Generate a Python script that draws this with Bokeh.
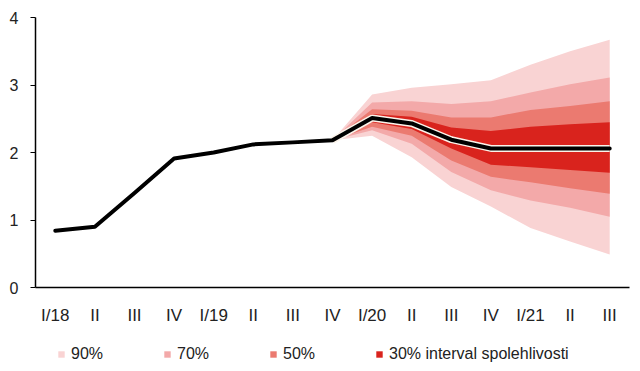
from bokeh.plotting import figure
from bokeh.layouts import column
from bokeh.models import Legend, LegendItem, FixedTicker, Range1d
from bokeh.embed import file_html
from bokeh.resources import INLINE

quarters = ["I/18", "II", "III", "IV", "I/19", "II", "III", "IV",
            "I/20", "II", "III", "IV", "I/21", "II", "III"]
actual = [0.84, 0.90, 1.40, 1.91, 2.00, 2.12, 2.15, 2.18,
          2.51, 2.43, 2.19, 2.06, 2.06, 2.06, 2.06]

fan_start = 7  # IV/19
lo90 = [2.18, 2.25, 1.93, 1.49, 1.20, 0.88, 0.68, 0.49]
hi90 = [2.18, 2.86, 2.96, 3.01, 3.07, 3.30, 3.50, 3.67]
lo70 = [2.18, 2.33, 2.13, 1.71, 1.44, 1.29, 1.18, 1.05]
hi70 = [2.18, 2.74, 2.76, 2.72, 2.76, 2.89, 3.01, 3.11]
lo50 = [2.18, 2.38, 2.25, 1.88, 1.64, 1.56, 1.47, 1.39]
hi50 = [2.18, 2.64, 2.62, 2.52, 2.52, 2.63, 2.69, 2.76]
lo30 = [2.18, 2.45, 2.35, 2.06, 1.82, 1.78, 1.74, 1.70]
hi30 = [2.18, 2.57, 2.53, 2.37, 2.32, 2.38, 2.42, 2.45]

labels = ["90%", "70%", "50%", "30% interval spolehlivosti"]
colors = ["#f9d3d3", "#f3a9a9", "#eb7a70", "#d9231d"]

x_all = list(range(len(quarters)))
x_fan = x_all[fan_start:]
bands = list(zip([lo90, lo70, lo50, lo30], [hi90, hi70, hi50, hi30], colors, labels))

FONT = "Liberation Sans"
TXT = "#222222"

p = figure(width=632, height=330, output_backend="svg", toolbar_location=None,
           x_range=Range1d(-0.5, 14.5), y_range=Range1d(0, 4),
           min_border_left=35, min_border_right=3, min_border_top=17,
           min_border_bottom=43)
p.outline_line_color = None
p.xgrid.grid_line_color = None
p.ygrid.grid_line_color = None
p.background_fill_color = "white"
p.border_fill_color = "white"

for lo, hi, c, _ in bands:
    p.varea(x=x_fan, y1=lo, y2=hi, fill_color=c)

p.line(x_fan, actual[fan_start:], line_color="#fbf3ea", line_width=7, line_join="round")
p.line(x_all, actual, line_color="black", line_width=4, line_join="round", line_cap="round")

p.xaxis.ticker = FixedTicker(ticks=x_all)
p.xaxis.major_label_overrides = {i: q for i, q in enumerate(quarters)}
p.xaxis.major_tick_line_color = None
p.xaxis.minor_tick_line_color = None
p.xaxis.major_label_standoff = 12
p.xaxis.axis_line_color = "black"
p.xaxis.axis_line_width = 1.5

p.yaxis.ticker = FixedTicker(ticks=[0, 1, 2, 3, 4])
p.yaxis.minor_tick_line_color = None
p.yaxis.major_tick_out = 5
p.yaxis.major_tick_in = 0
p.yaxis.major_label_standoff = 12
p.yaxis.axis_line_color = "black"
p.yaxis.axis_line_width = 1.5
p.yaxis.major_tick_line_color = "black"

for ax in (p.xaxis, p.yaxis):
    ax.major_label_text_font = FONT
    ax.major_label_text_color = TXT
p.xaxis.major_label_text_font_size = "17px"
p.yaxis.major_label_text_font_size = "16px"

# legend strip (its own bands lie outside its visible range; only the legend shows)
lg = figure(width=632, height=36, output_backend="svg", toolbar_location=None,
            x_range=Range1d(-0.5, 14.5), y_range=Range1d(10, 11), min_border=0)
lg.axis.visible = False
lg.grid.visible = False
lg.outline_line_color = None
items = []
for lo, hi, c, lab in bands:
    r = lg.varea(x=x_fan, y1=lo, y2=hi, fill_color=c)
    items.append(LegendItem(label=lab, renderers=[r]))

legend = Legend(items=items, orientation="horizontal", location=(22, 3),
                glyph_width=8, glyph_height=8, label_width=84, label_standoff=6,
                spacing=8, padding=0, margin=0,
                label_text_font=FONT, label_text_font_size="16px",
                label_text_color=TXT, border_line_color=None,
                background_fill_alpha=0)
lg.add_layout(legend)

layout = column(p, lg, spacing=0)
open("out.html", "w").write(file_html(layout, INLINE))
